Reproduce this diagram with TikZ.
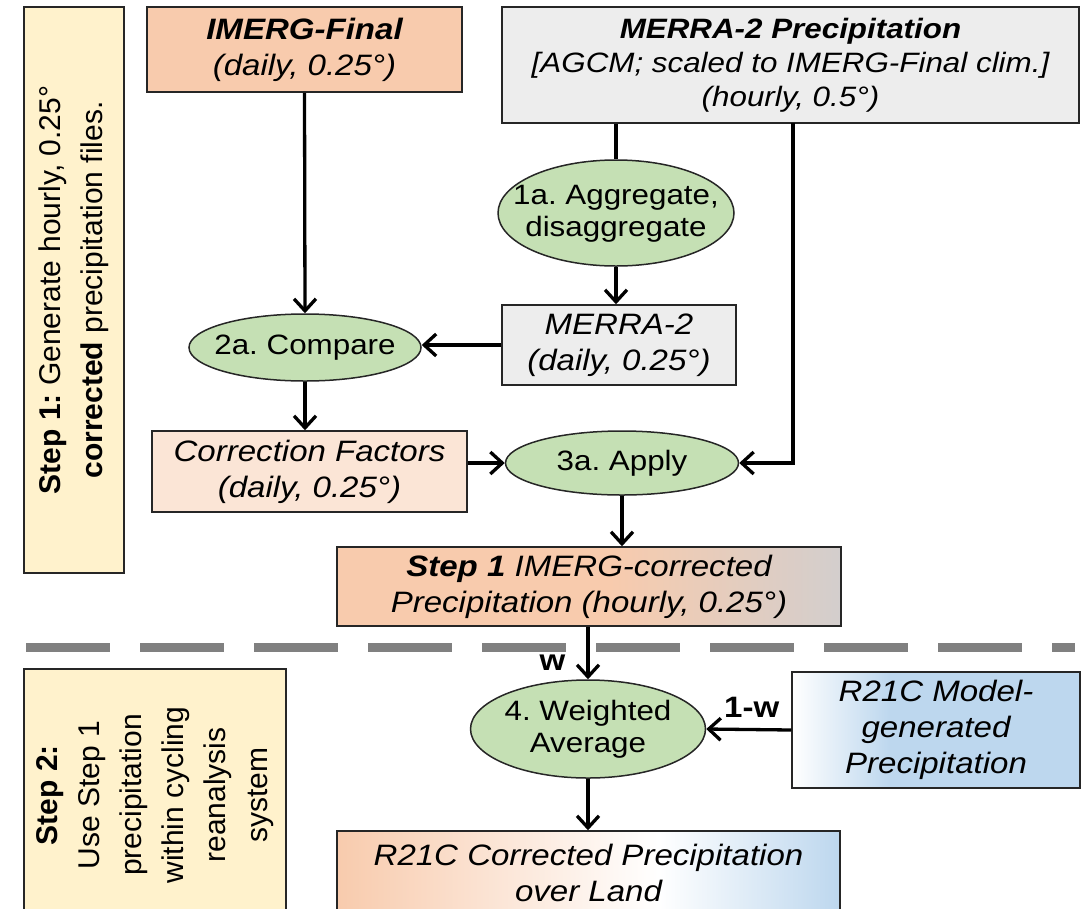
\documentclass[tikz,border=0pt]{standalone}
\usepackage{fontspec}
\setmainfont{Liberation Sans}[FakeStretch=1.12]
\newfontfamily\sidefont{Liberation Sans}
\usepackage{tikz}
\usetikzlibrary{arrows.meta, shapes.geometric, positioning, calc}
\tikzset{>={Straight Barb[length=12pt,width=22pt]}}
\definecolor{peach}{HTML}{F8CBAD}
\definecolor{lightpeach}{HTML}{FBE5D6}
\definecolor{paleyellow}{HTML}{FFF2CC}
\definecolor{boxgray}{HTML}{EDEDED}
\definecolor{procgreen}{HTML}{C5E0B4}
\definecolor{skyblue}{HTML}{BDD7EE}
\definecolor{warmgray}{HTML}{D3CECD}
\definecolor{edgegray}{HTML}{262626}
\definecolor{dashgray}{HTML}{808080}
\pgfdeclarehorizontalshading{peachgray}{100bp}{color(0bp)=(peach); color(25bp)=(peach); color(52bp)=(peach); color(75bp)=(warmgray); color(100bp)=(warmgray)}
\pgfdeclarehorizontalshading{peachblue}{100bp}{color(0bp)=(peach); color(25bp)=(peach); color(57bp)=(white); color(75bp)=(skyblue); color(100bp)=(skyblue)}
\pgfdeclarehorizontalshading{whiteblue}{100bp}{color(0bp)=(white); color(25bp)=(white); color(42bp)=(skyblue); color(75bp)=(skyblue); color(100bp)=(skyblue)}
\newcommand{\txtsize}{\fontsize{29.5}{36}\selectfont}
\newcommand{\merrasize}{\fontsize{28}{34}\selectfont}
\newcommand{\ellsize}{\fontsize{28}{32}\selectfont}
\newcommand{\sidesize}{\sidefont\fontsize{30}{42}\selectfont}
\newcommand{\inell}[1]{\makebox[0pt]{\raisebox{-.25em}[0pt][0pt]{\begin{tabular}{@{}c@{}}#1\end{tabular}}}}

\begin{document}
\frenchspacing
\begin{tikzpicture}[x=1pt, y=1pt,
  box/.style={draw=edgegray, line width=1.5pt, inner sep=0pt, align=center, font=\txtsize\itshape},
  side/.style={draw=edgegray, line width=1.5pt, inner sep=0pt, align=center, fill=paleyellow, rotate=90, font=\sidesize},
  proc/.style={ellipse, draw=edgegray, line width=1.5pt, fill=procgreen, inner sep=0pt, font=\ellsize},
  link/.style={->, line width=3.3pt},
  tag/.style={inner sep=0pt, font=\txtsize\bfseries}]
\useasboundingbox (0,0) rectangle (1081,-908);

% step 1
\node[side, minimum width=566pt, minimum height=100pt] (sone) at (74,-290)
  {\textbf{Step 1:} Generate hourly, 0.25°\\\textbf{corrected} precipitation files.};
\node[box, fill=peach, minimum width=315pt, minimum height=85pt] (imerg) at (304.5,-49.5)
  {\textbf{IMERG-Final}\\(daily, 0.25°)};
\node[box, fill=boxgray, font=\merrasize\itshape, minimum width=577pt, minimum height=116pt] (merra) at (790.5,-65)
  {\textbf{MERRA-2 Precipitation}\\{}[AGCM; scaled to IMERG-Final clim.]\\(hourly, 0.5°)};
\node[proc, minimum width=236pt, minimum height=106pt] (agg) at (616,-213) {\inell{1a. Aggregate,\\disaggregate}};
\node[box, fill=boxgray, minimum width=234pt, minimum height=80pt] (merrad) at (619,-345)
  {MERRA-2\\(daily, 0.25°)};
\node[proc, minimum width=232pt, minimum height=67pt] (cmp) at (305,-347.5) {\inell{2a. Compare}};
\node[box, fill=lightpeach, minimum width=315pt, minimum height=81pt] (cf) at (309.5,-471.5)
  {Correction Factors\\(daily, 0.25°)};
\node[proc, minimum width=233pt, minimum height=64pt] (apply) at (622,-463) {\inell{3a. Apply}};
\node[box, shading=peachgray, minimum width=504pt, minimum height=79pt] (sonec) at (589,-586.5)
  {\textbf{Step 1} IMERG-corrected\\Precipitation (hourly, 0.25°)};
\coordinate (tap) at (793,-123);

\path[link]
(imerg.south) edge (cmp.north)
(agg.south) edge (agg.south |- merrad.north)
(merrad.west) edge (merrad.west -| cmp.east)
(cmp.south) edge (cmp.south |- cf.north)
(apply.west -| cf.east) edge (apply.west)
(apply.south) edge (apply.south |- sonec.north);
\draw[line width=3.3pt] (merra.south -| agg.north) -- (agg.north);
\draw[link] (tap) |- (apply.east);

% separator
\draw[dashgray, line width=9pt, dash pattern=on 84pt off 30pt] (26,-647) -- (1075,-647);

% step 2
\node[side, minimum width=252pt, minimum height=262pt] (stwo) at (155,-795)
  {\textbf{Step 2:}\\Use Step 1\\precipitation\\within cycling\\reanalysis\\system};
\node[proc, minimum width=235pt, minimum height=98pt] (wavg) at (588,-729) {\inell{4. Weighted\\Average}};
\node[box, shading=whiteblue, minimum width=288pt, minimum height=116pt] (model) at (936,-730)
  {R21C Model-\\generated\\Precipitation};
\node[box, shading=peachblue, minimum width=503pt, minimum height=84pt] (final) at (588.5,-873)
  {R21C Corrected Precipitation\\over Land};

\path[link]
(sonec.south -| wavg.north) edge node[tag, pos=0.685, left=21pt] {w} (wavg.north)
(model.west) edge node[tag, midway, above=10pt, xshift=3pt] {1-w} (wavg.east)
(wavg.south) edge (wavg.south |- final.north);
\end{tikzpicture}
\end{document}
